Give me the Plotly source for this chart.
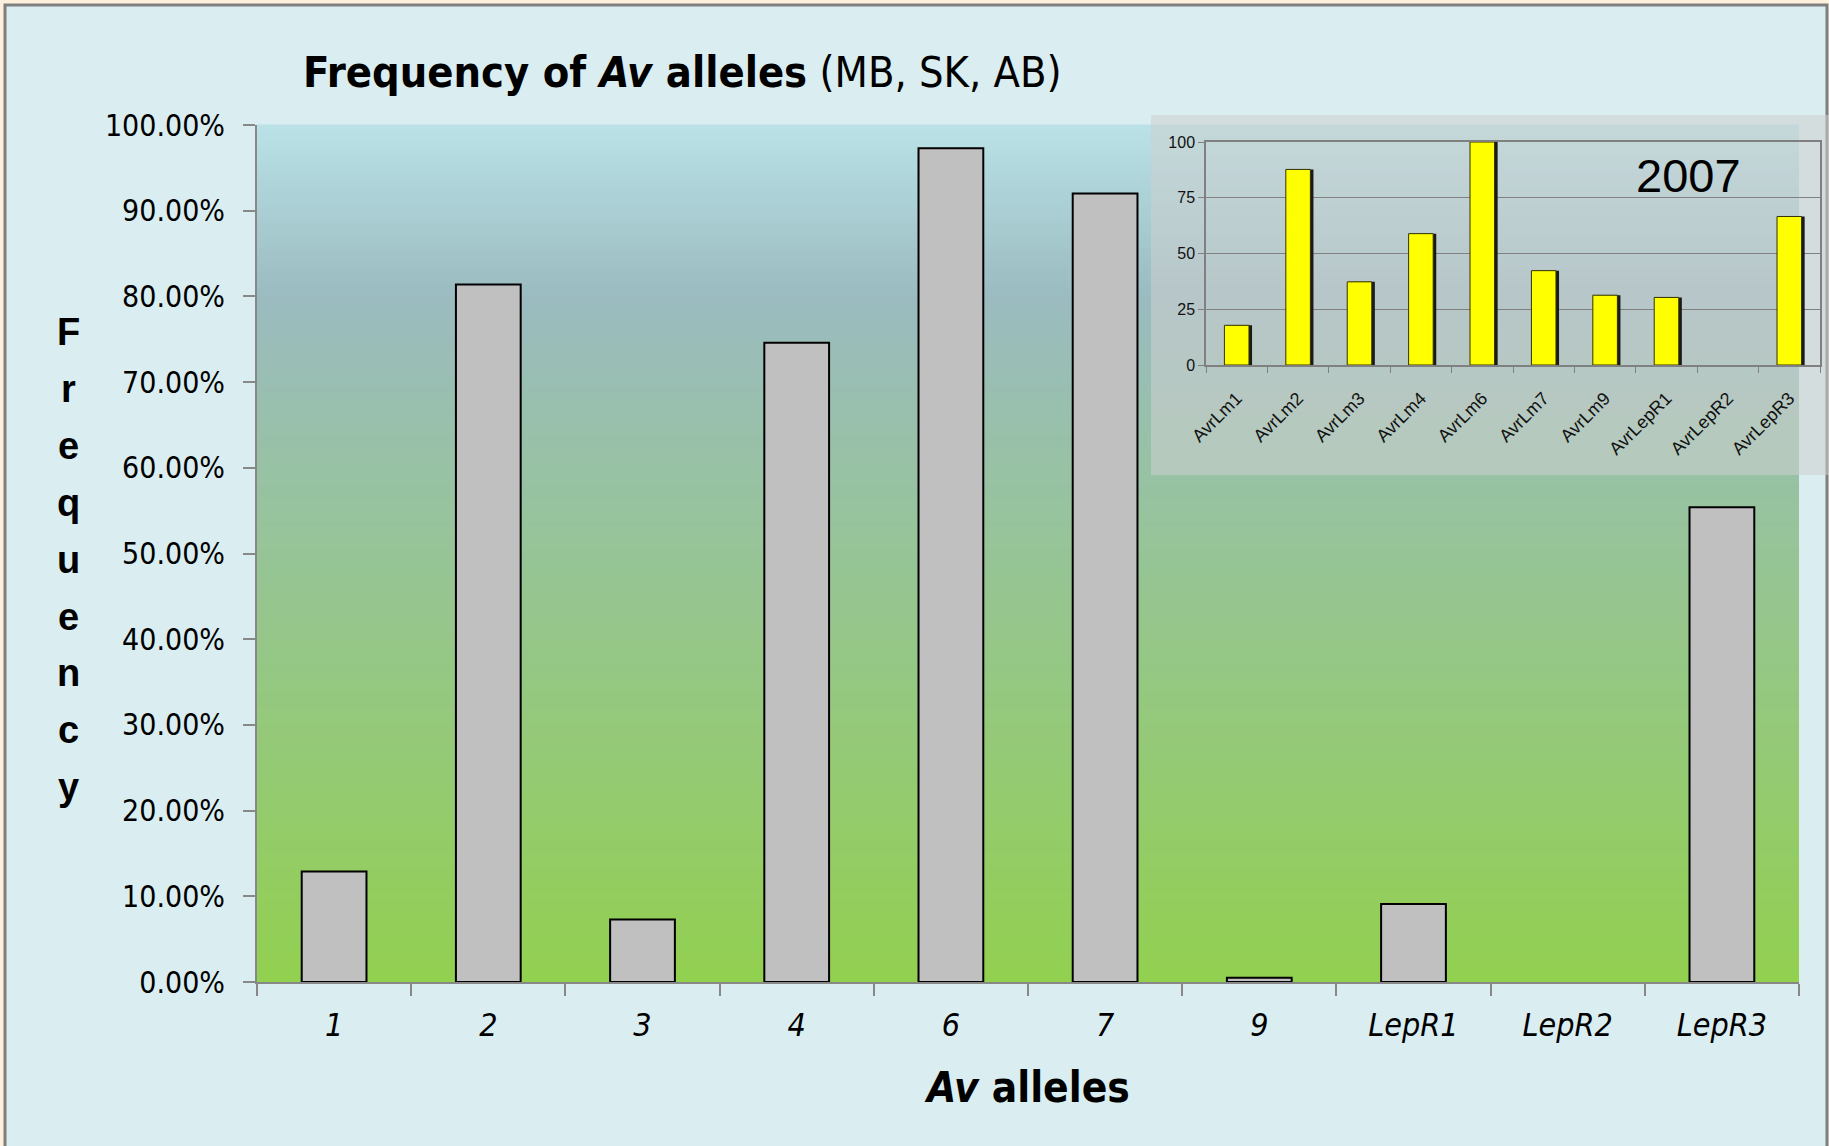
import plotly.graph_objects as go

# ---- main chart data: frequency of Av alleles (MB, SK, AB) ----
alleles = ["1", "2", "3", "4", "6", "7", "9", "LepR1", "LepR2", "LepR3"]
frequency = [0.129, 0.814, 0.073, 0.746, 0.973, 0.920, 0.005, 0.091, 0.0, 0.554]

# ---- inset data: 2007 avirulence frequencies ----
avr_genes = ["AvrLm1", "AvrLm2", "AvrLm3", "AvrLm4", "AvrLm6", "AvrLm7",
             "AvrLm9", "AvrLepR1", "AvrLepR2", "AvrLepR3"]
avr_2007 = [17.8, 87.7, 37.3, 58.9, 100.0, 42.3, 31.3, 30.3, 0.0, 66.6]
y_ticks_pct = [0, 0.1, 0.2, 0.3, 0.4, 0.5, 0.6, 0.7, 0.8, 0.9, 1.0]
inset_ticks = [0, 25, 50, 75, 100]

W, H = 1829, 1146
ML, MR, MT, MB = 257, 5, 125, 164
PW, PH = W - ML - MR, H - MT - MB

NARROW = "Liberation Sans Narrow, Arial Narrow, DejaVu Sans Condensed, sans-serif"
ARIAL = "Liberation Sans, Arial, sans-serif"


def px(x):
    return (x - ML) / PW


def py(y):
    return (H - MB - y) / PH


def edge_widths(values, w):
    # no outline on empty bars
    return [w if v > 0 else 0 for v in values]


fig = go.Figure()

# main bars
fig.add_trace(go.Bar(
    x=alleles, y=frequency, width=0.42,
    marker=dict(color="#C0C0C0", line=dict(color="black", width=edge_widths(frequency, 2))),
    xaxis="x", yaxis="y", showlegend=False,
))

# inset bars: dark shadow then yellow bar
fig.add_trace(go.Bar(
    x=avr_genes, y=avr_2007, width=0.4, offset=-0.2 + 0.05,
    marker=dict(color="#1a1a1a", line=dict(width=0)),
    xaxis="x2", yaxis="y2", showlegend=False,
))
fig.add_trace(go.Bar(
    x=avr_genes, y=avr_2007, width=0.4, offset=-0.2,
    marker=dict(color="#FFFF00", line=dict(color="#333300", width=edge_widths(avr_2007, 1))),
    xaxis="x2", yaxis="y2", showlegend=False,
))

shapes = []
# slide frame
shapes.append(dict(type="rect", xref="paper", yref="paper",
                   x0=px(5), x1=px(1827), y0=py(1160), y1=py(5),
                   fillcolor="#DAEDF0", line=dict(color="#7F7F7F", width=3),
                   layer="below"))

# vertical gradient behind the main plot
stops = [(0.0, (185, 226, 231)), (0.20, (155, 187, 192)),
         (0.45, (151, 195, 158)), (1.0, (146, 208, 80))]


def grad(t):
    for (a, ca), (b, cb) in zip(stops[:-1], stops[1:]):
        if a <= t <= b:
            f = (t - a) / (b - a)
            return "rgb(%d,%d,%d)" % tuple(round(ca[i] + (cb[i] - ca[i]) * f) for i in range(3))
    return "rgb(146,208,80)"


N = 160
main_right = px(1799)
for i in range(N):
    t = (i + 0.5) / N
    shapes.append(dict(type="rect", xref="paper", yref="paper",
                       x0=0, x1=main_right, y0=1 - (i + 1) / N - 0.0005, y1=1 - i / N + 0.0005,
                       fillcolor=grad(t), line=dict(width=0), layer="below"))

# translucent panel behind the inset chart
shapes.append(dict(type="rect", xref="paper", yref="paper",
                   x0=px(1151), x1=px(1835), y0=py(475), y1=py(115),
                   fillcolor="rgba(205,208,208,0.55)", line=dict(width=0),
                   layer="below"))

annotations = [
    dict(text="<b>Frequency of <i>Av</i> alleles</b> (MB, SK, AB)",
         xref="paper", yref="paper", x=px(301), y=py(72),
         xanchor="left", yanchor="middle", showarrow=False,
         font=dict(family=NARROW, size=43, color="black")),
    dict(text="<b><i>Av</i> alleles</b>",
         xref="paper", yref="paper", x=px(1027), y=py(1087),
         xanchor="center", yanchor="middle", showarrow=False,
         font=dict(family=NARROW, size=42, color="black")),
    dict(text="2007", xref="paper", yref="paper", x=px(1688), y=py(175),
         xanchor="center", yanchor="middle", showarrow=False,
         font=dict(family=ARIAL, size=47, color="black")),
]
# stacked y-axis title
for k, ch in enumerate("Frequency"):
    annotations.append(dict(text="<b>%s</b>" % ch, xref="paper", yref="paper",
                            x=px(68), y=py(332 + k * 56.9),
                            xanchor="center", yanchor="middle", showarrow=False,
                            font=dict(family=ARIAL, size=38, color="black")))

fig.update_layout(
    width=W, height=H,
    margin=dict(l=ML, r=MR, t=MT, b=MB, pad=0),
    paper_bgcolor="#FDF0DC",
    plot_bgcolor="rgba(0,0,0,0)",
    barmode="overlay",
    shapes=shapes,
    annotations=annotations,
    xaxis=dict(domain=[0, main_right], type="category", range=[-0.5, 9.5],
               showline=True, linecolor="#888888", linewidth=2,
               ticks="outside", tickson="boundaries", ticklen=12,
               tickcolor="#888888", tickwidth=1.5, showgrid=False,
               tickfont=dict(family=NARROW, size=32, color="black", style="italic"),
               ticklabelstandoff=14, anchor="y"),
    yaxis=dict(domain=[0, 1], range=[0, 1], tickvals=y_ticks_pct, tickformat=".2%",
               showline=True, linecolor="#888888", linewidth=2,
               ticks="outside", ticklen=12, tickcolor="#888888", tickwidth=1.5,
               showgrid=False, zeroline=False,
               tickfont=dict(family=NARROW, size=30, color="black"),
               ticklabelstandoff=12, anchor="x"),
    xaxis2=dict(domain=[px(1206), px(1820)], type="category", range=[-0.5, 9.5],
                showline=True, mirror=True, linecolor="#808080", linewidth=1.5,
                ticks="outside", tickson="boundaries", ticklen=6,
                tickcolor="#808080", showgrid=False, tickangle=-45,
                tickfont=dict(family=ARIAL, size=18, color="#111111"),
                ticklabelstandoff=14, anchor="y2"),
    yaxis2=dict(domain=[py(365), py(142)], range=[0, 100], tickvals=inset_ticks,
                showline=True, mirror=True, linecolor="#808080", linewidth=1.5,
                ticks="outside", ticklen=6, tickcolor="#808080",
                showgrid=True, gridcolor="#808080", gridwidth=1.2, zeroline=False,
                tickfont=dict(family=ARIAL, size=16, color="#111111"),
                anchor="x2"),
)

fig.write_html("out.html")
